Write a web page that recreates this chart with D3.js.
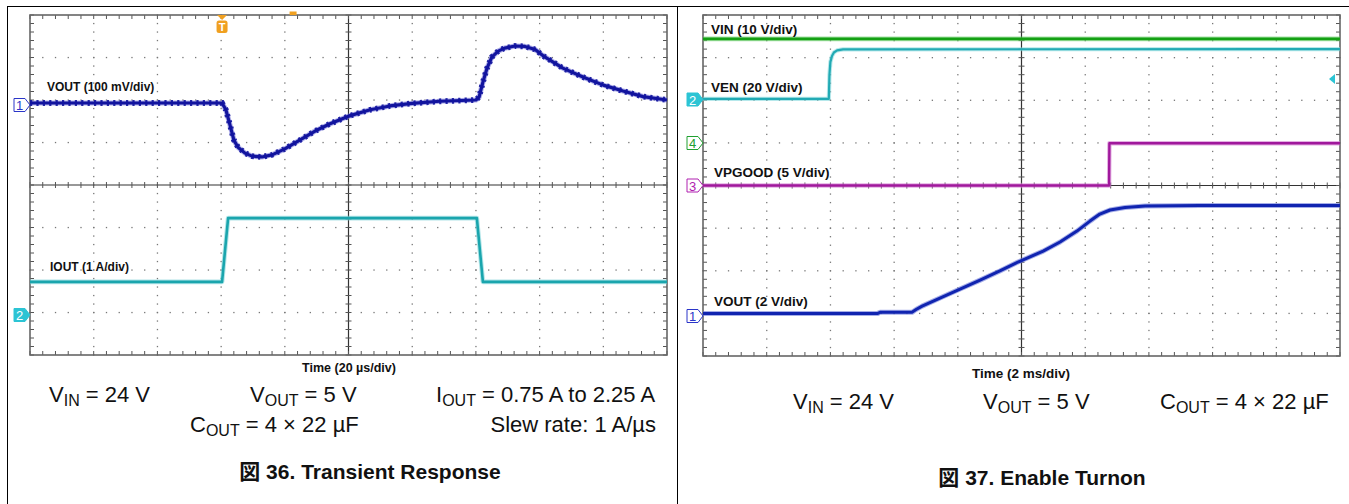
<!DOCTYPE html>
<html><head><meta charset="utf-8">
<script src="https://cdn.jsdelivr.net/npm/d3@7"></script>
<style>body{margin:0;background:#fff} svg{display:block;font-family:"Liberation Sans",Arial,"Noto Sans CJK JP",sans-serif}</style>
</head><body><svg id="c" width="1349" height="504"></svg>
<script>
// ---------- Data: Figure 36, Transient Response (20 µs/div) ----------
const transientTime_us = [0, 60.3, 61.5, 62.8, 64, 65.3, 67.5, 69.7, 72.8, 76, 80, 84.8, 89.5, 94.2, 100, 106.8, 113, 120, 128.7, 140, 141, 142.2, 143.5, 145, 147, 149, 152.3, 155.4, 158.6, 161.1, 167.3, 173.6, 180, 186.2, 192.5, 200];
const transientVout_mV = [0, 0, -16, -52, -87, -104, -118, -125, -127, -122, -108, -87, -66, -49, -31, -16, -7, -1, 4, 7, 14, 49, 82, 108, 122, 129, 134, 133, 126, 111, 82, 61, 42, 28, 15, 7];
const transientIoutTime_us = [0, 60.3, 62.2, 140.3, 142.2, 200];
const transientIout_A = [0.75, 0.75, 2.25, 2.25, 0.75, 0.75];

// ---------- Data: Figure 37, Enable Turnon (2 ms/div) ----------
const turnonVinTime_ms = [0, 20];
const turnonVin_V = [24.4, 24.4];
const turnonVenTime_ms = [0, 3.95, 3.97, 4.0, 4.05, 4.11, 4.21, 4.4, 20];
const turnonVen_V = [0, 0, 11.3, 17.4, 20.2, 21.8, 22.8, 23.3, 23.4];
const turnonPgTime_ms = [0, 12.75, 12.76, 20];
const turnonPg_V = [0, 0, 4.95, 4.95];
const turnonVoutTime_ms = [0, 5.49, 5.56, 6.56, 6.69, 6.88, 7.44, 8.07, 8.70, 9.32, 9.89, 10.68, 11.21, 11.74, 12.15, 12.46, 12.78, 13.25, 13.88, 15.6, 20];
const turnonVout_V = [0, 0, 0.05, 0.05, 0.18, 0.34, 0.72, 1.14, 1.56, 1.99, 2.41, 2.92, 3.35, 3.86, 4.33, 4.66, 4.85, 4.97, 5.04, 5.06, 5.06];

// ---------- Labels ----------
const timeLabels = ["Time (20 µs/div)", "Time (2 ms/div)"];
const titleLabels = ["図 36. Transient Response", "図 37. Enable Turnon"];

const svg = d3.select("#c");

// outer frames
svg.append("line").attr("x1", 7).attr("x2", 1349).attr("y1", 6.5).attr("y2", 6.5).attr("stroke", "#000").attr("stroke-width", 1);
svg.append("line").attr("x1", 7.5).attr("x2", 7.5).attr("y1", 6).attr("y2", 504).attr("stroke", "#000").attr("stroke-width", 1);
svg.append("line").attr("x1", 677.5).attr("x2", 677.5).attr("y1", 6).attr("y2", 504).attr("stroke", "#000").attr("stroke-width", 1);

function drawScope(left, top, right, bottom, tMax) {
  const x = d3.scaleLinear().domain([0, tMax]).range([left, right]);
  const y = d3.scaleLinear().domain([-4, 4]).range([bottom, top]);
  const g = svg.append("g");
  const xDiv = tMax / 10;
  const dots = [];
  for (let i = 1; i < 10; i++) { if (i === 5) continue; for (let k = 0; k <= 40; k++) dots.push([x(i * xDiv), y(-4 + k * 0.2)]); }
  for (let j = 1; j < 8; j++) { if (j === 4) continue; for (let k = 0; k <= 50; k++) dots.push([x(k * xDiv / 5), y(-4 + j)]); }
  g.selectAll(null).data(dots).join("rect")
    .attr("x", d => d[0] - 0.6).attr("y", d => d[1] - 0.6).attr("width", 1.3).attr("height", 1.3).attr("fill", "#777");
  g.append("line").attr("x1", x(tMax / 2)).attr("x2", x(tMax / 2)).attr("y1", top).attr("y2", bottom).attr("stroke", "#333").attr("stroke-width", 1.2);
  g.append("line").attr("x1", left).attr("x2", right).attr("y1", y(0)).attr("y2", y(0)).attr("stroke", "#333").attr("stroke-width", 1.2);
  const ticks = [];
  for (let k = 0; k <= 50; k++) {
    const xx = x(k * xDiv / 5);
    ticks.push([xx, y(0) - 3, xx, y(0) + 3], [xx, top, xx, top + 4], [xx, bottom - 4, xx, bottom]);
  }
  for (let k = 0; k <= 40; k++) {
    const yy = y(-4 + k * 0.2);
    ticks.push([x(tMax / 2) - 3, yy, x(tMax / 2) + 3, yy], [left, yy, left + 4, yy], [right - 4, yy, right, yy]);
  }
  g.selectAll(null).data(ticks).join("line")
    .attr("x1", d => d[0]).attr("y1", d => d[1]).attr("x2", d => d[2]).attr("y2", d => d[3])
    .attr("stroke", "#555").attr("stroke-width", 1);
  g.append("rect").attr("x", left).attr("y", top).attr("width", right - left).attr("height", bottom - top)
    .attr("fill", "none").attr("stroke", "#666").attr("stroke-width", 1.6);
  return { x, y, g };
}

function trace(sc, times, vals, offsetDiv, perDiv, color, halo, w, texture) {
  const pts = times.map((t, i) => [t, vals[i]]);
  const line = d3.line().x(d => sc.x(d[0])).y(d => sc.y(offsetDiv + d[1] / perDiv));
  if (halo) svg.append("path").datum(pts).attr("d", line).attr("fill", "none").attr("stroke", halo).attr("stroke-width", w + 2).attr("stroke-linejoin", "round").attr("opacity", 0.6);
  svg.append("path").datum(pts).attr("d", line).attr("fill", "none").attr("stroke", color).attr("stroke-width", w).attr("stroke-linejoin", "round");
  if (texture) {
    // serrated look of the switching ripple (visual style only)
    svg.append("path").datum(pts).attr("d", line).attr("fill", "none").attr("stroke", color)
      .attr("stroke-width", w + 2.6).attr("stroke-dasharray", "2.2,4.2").attr("opacity", 0.9);
  }
}

function marker(xr, yc, label, color, filled) {
  const xl = xr - 16;
  svg.append("path").attr("d", `M${xl},${yc - 6.5}h11l5,6.5l-5,6.5h-11z`)
    .attr("fill", filled ? color : "#fff").attr("stroke", color).attr("stroke-width", 1);
  svg.append("text").attr("x", xl + 5.5).attr("y", yc + 5).attr("text-anchor", "middle")
    .attr("font-size", 13).attr("fill", filled ? "#fff" : color).text(label);
}

function label(x, y, txt, size, anchor) {
  svg.append("text").attr("x", x).attr("y", y).attr("font-size", size).attr("font-weight", "bold")
    .attr("text-anchor", anchor || "start").attr("fill", "#111").text(txt);
}

function subText(x, y, parts, anchor) {
  const t = svg.append("text").attr("x", x).attr("y", y).attr("font-size", 22).attr("fill", "#111").attr("text-anchor", anchor || "start");
  parts.forEach(p => {
    if (p[1]) t.append("tspan").attr("font-size", 16).attr("dy", 4).text(p[0]);
    else t.append("tspan").attr("dy", p[2] || 0).text(p[0]);
  });
}

// ---------- Left scope ----------
const L = drawScope(30, 15, 667, 355, 200);
trace(L, transientIoutTime_us, transientIout_A, -3.03, 1, "#1aa5ad", "#7fd4d8", 2.6);
trace(L, transientTime_us, transientVout_mV, 1.93, 100, "#12149e", "#7a7ada", 3.2, true);
marker(30, 105, "1", "#2a35c8", false);
marker(30, 315, "2", "#2cc4d4", true);
// trigger marker
svg.append("path").attr("d", `M${L.x(60.3) - 5},15l5,5l5,-5z`).attr("fill", "#f0a020");
svg.append("rect").attr("x", L.x(60.3) - 5.5).attr("y", 20.5).attr("width", 11).attr("height", 12.5).attr("rx", 2.5).attr("fill", "#f0a020");
svg.append("text").attr("x", L.x(60.3)).attr("y", 31).attr("text-anchor", "middle").attr("font-size", 11).attr("font-weight", "bold").attr("fill", "#fff").text("T");
svg.append("rect").attr("x", L.x(81.5)).attr("y", 11.5).attr("width", 7).attr("height", 3.5).attr("fill", "#f0a020");

label(47, 91, "VOUT (100 mV/div)", 12);
label(50, 271, "IOUT (1 A/div)", 12);
label(349, 372, timeLabels[0], 12.5, "middle");

subText(49, 402, [["V"], ["IN", true], [" = 24 V", false, -4]]);
subText(250, 402, [["V"], ["OUT", true], [" = 5 V", false, -4]]);
subText(436, 402, [["I"], ["OUT", true], [" = 0.75 A to 2.25 A", false, -4]]);
subText(190, 432, [["C"], ["OUT", true], [" = 4 × 22 µF", false, -4]]);
subText(656, 432, [["Slew rate: 1 A/µs"]], "end");
svg.append("text").attr("x", 370).attr("y", 479).attr("text-anchor", "middle").attr("font-size", 21).attr("font-weight", "bold").attr("fill", "#111").text(titleLabels[0]);

// ---------- Right scope ----------
const R = drawScope(703, 15, 1340, 356, 20);
trace(R, turnonVinTime_ms, turnonVin_V, 1.0, 10, "#14a014", "#6cd06c", 2.6);
trace(R, turnonVenTime_ms, turnonVen_V, 2.03, 20, "#22aab4", "#86d8de", 2.2);
trace(R, turnonPgTime_ms, turnonPg_V, 0, 5, "#a0189c", "#d27ad0", 2.4);
trace(R, turnonVoutTime_ms, turnonVout_V, -3.0, 2, "#1024b0", "#6a78d8", 3.0);
marker(703, 99.5, "2", "#2cc4d4", true);
marker(703, 143, "4", "#20a030", false);
marker(703, 185.5, "3", "#b020b0", false);
marker(703, 316, "1", "#2a35c8", false);
svg.append("path").attr("d", "M1329,79l6,-5v10z").attr("fill", "#2cc4d4");

label(711, 34, "VIN (10 V/div)", 13.5);
label(711, 92, "VEN (20 V/div)", 13.5);
label(714, 177, "VPGOOD (5 V/div)", 13.5);
label(714, 306, "VOUT (2 V/div)", 13.5);
label(1021, 378, timeLabels[1], 13.5, "middle");

subText(793, 409, [["V"], ["IN", true], [" = 24 V", false, -4]]);
subText(983, 409, [["V"], ["OUT", true], [" = 5 V", false, -4]]);
subText(1160, 409, [["C"], ["OUT", true], [" = 4 × 22 µF", false, -4]]);
svg.append("text").attr("x", 1042).attr("y", 485).attr("text-anchor", "middle").attr("font-size", 21).attr("font-weight", "bold").attr("fill", "#111").text(titleLabels[1]);
</script></body></html>
